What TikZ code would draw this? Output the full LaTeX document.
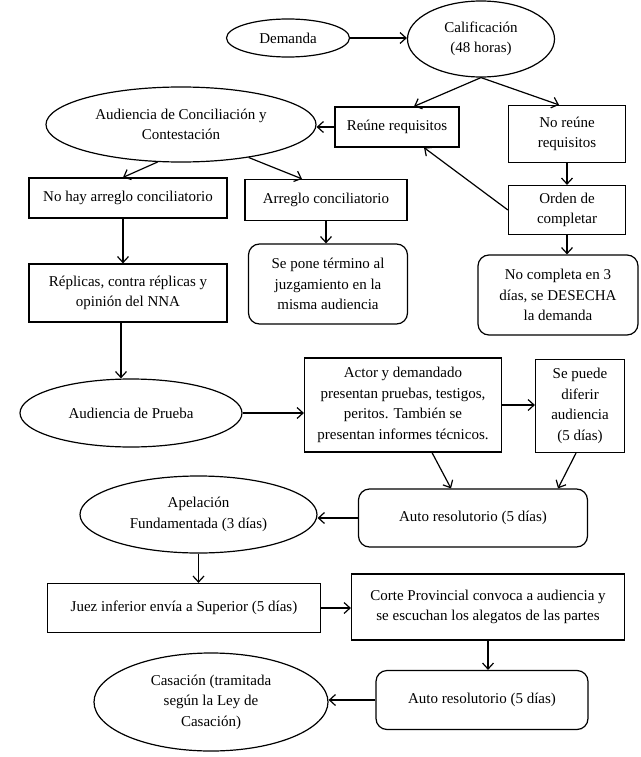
\documentclass[tikz,border=0pt]{standalone}
\usepackage{fontspec}
\setmainfont{Liberation Serif}
\usetikzlibrary{shapes.geometric,arrows.meta,calc}
\begin{document}
\begin{tikzpicture}[x=1pt,y=-1pt,
  every node/.style={font=\fontsize{15}{20.5}\selectfont, align=center, inner sep=0pt},
  box/.style={draw, line width=1.2pt, rectangle},
  rbox/.style={draw, line width=1.2pt, rectangle, rounded corners=11pt},
  ell/.style={draw, line width=1.2pt, ellipse},
  arr/.style={-{Straight Barb[length=6pt,width=11pt]}, line width=1.2pt}]
\fill[white] (0,0) rectangle (640,757);
\useasboundingbox (0,0) rectangle (640,757);

\node[ell, minimum width=123pt, minimum height=38pt] (dem) at (288,38) {Demanda};
\node[ell, minimum width=147pt, minimum height=76pt] (calif) at (481,39) {Calificación\\(48 horas)};
\node[box, minimum width=124pt, minimum height=40pt] (reune) at (397,127) {Reúne requisitos};
\node[box, minimum width=117pt, minimum height=57pt] (noreune) at (567,134) {No reúne\\requisitos};
\node[ell, minimum width=270pt, minimum height=75pt] (concil) at (181,124.5) {Audiencia de Conciliación y\\Contestación};
\node[box, minimum width=198pt, minimum height=40pt] (nohay) at (128,198) {No hay arreglo conciliatorio};
\node[box, minimum width=162pt, minimum height=41pt] (arreglo) at (326,200) {Arreglo conciliatorio};
\node[box, minimum width=117pt, minimum height=49pt] (orden) at (567,210) {Orden de\\completar};
\node[box, minimum width=198pt, minimum height=58pt] (replicas) at (128,293) {Réplicas, contra réplicas y\\opinión del NNA};
\node[rbox, minimum width=159pt, minimum height=80pt] (sepone) at (328,284) {Se pone término al\\juzgamiento en la\\misma audiencia};
\node[rbox, minimum width=160pt, minimum height=80pt] (nocomp) at (558,295) {No completa en 3\\días, se DESECHA\\la demanda};
\node[ell, minimum width=222pt, minimum height=68pt] (prueba) at (131,413) {Audiencia de Prueba};
\node[box, minimum width=197pt, minimum height=94pt] (actor) at (403,405) {Actor y demandado\\presentan pruebas, testigos,\\peritos. También se\\presentan informes técnicos.};
\node[box, minimum width=89pt, minimum height=93pt] (difer) at (580,406) {Se puede\\diferir\\audiencia\\(5 días)};
\node[rbox, minimum width=229pt, minimum height=58pt] (auto1) at (473,518) {Auto resolutorio (5 días)};
\node[ell, minimum width=237pt, minimum height=77pt] (apel) at (198.5,514.5) {Apelación\\Fundamentada (3 días)};
\node[box, minimum width=273pt, minimum height=49pt] (juez) at (184,608) {Juez inferior envía a Superior (5 días)};
\node[box, minimum width=273pt, minimum height=66pt] (corte) at (488,607) {Corte Provincial convoca a audiencia y\\se escuchan los alegatos de las partes};
\node[rbox, minimum width=212pt, minimum height=59pt] (auto2) at (482,700) {Auto resolutorio (5 días)};
\node[ell, minimum width=234pt, minimum height=98pt] (casac) at (211,702) {Casación (tramitada\\según la Ley de\\Casación)};

\draw[arr] (dem.east) -- (dem.east -| calif.west);
\draw[arr] (calif.south) -- ([xshift=17pt]reune.north);
\draw[arr] (calif.south) -- ([xshift=-8pt]noreune.north);
\draw[arr] (reune.west) -- (reune.west -| concil.east);
\draw[arr] (concil.-122) -- ([xshift=-5pt]nohay.north);
\draw[arr] (concil.-26) -- ([xshift=-24pt]arreglo.north);
\draw[arr] (noreune.south) -- (orden.north);
\draw[arr] (orden.west) -- ([xshift=27pt]reune.south);
\draw[arr] (orden.south) -- (orden.south |- nocomp.north);
\draw[arr] ([xshift=-5pt]nohay.south) -- ([xshift=-5pt]replicas.north);
\draw[arr] (arreglo.south) -- (arreglo.south |- sepone.north);
\draw[arr] ([xshift=-7pt]replicas.south) -- ([xshift=-7pt]replicas.south |- prueba.north);
\draw[arr] (prueba.east) -- (prueba.east -| actor.west);
\draw[arr] (actor.east) -- (actor.east -| difer.west);
\draw[arr] ([xshift=29pt]actor.south) -- ([xshift=-22pt]auto1.north);
\draw[arr] ([xshift=-4pt]difer.south) -- ([xshift=85pt]auto1.north);
\draw[arr] (auto1.west) -- (auto1.west -| apel.east);
\draw[arr] (apel.south) -- (apel.south |- juez.north);
\draw[arr] (juez.east) -- (juez.east -| corte.west);
\draw[arr] (corte.south) -- (corte.south |- auto2.north);
\draw[arr] (auto2.west) -- (auto2.west -| casac.east);
\end{tikzpicture}
\end{document}
